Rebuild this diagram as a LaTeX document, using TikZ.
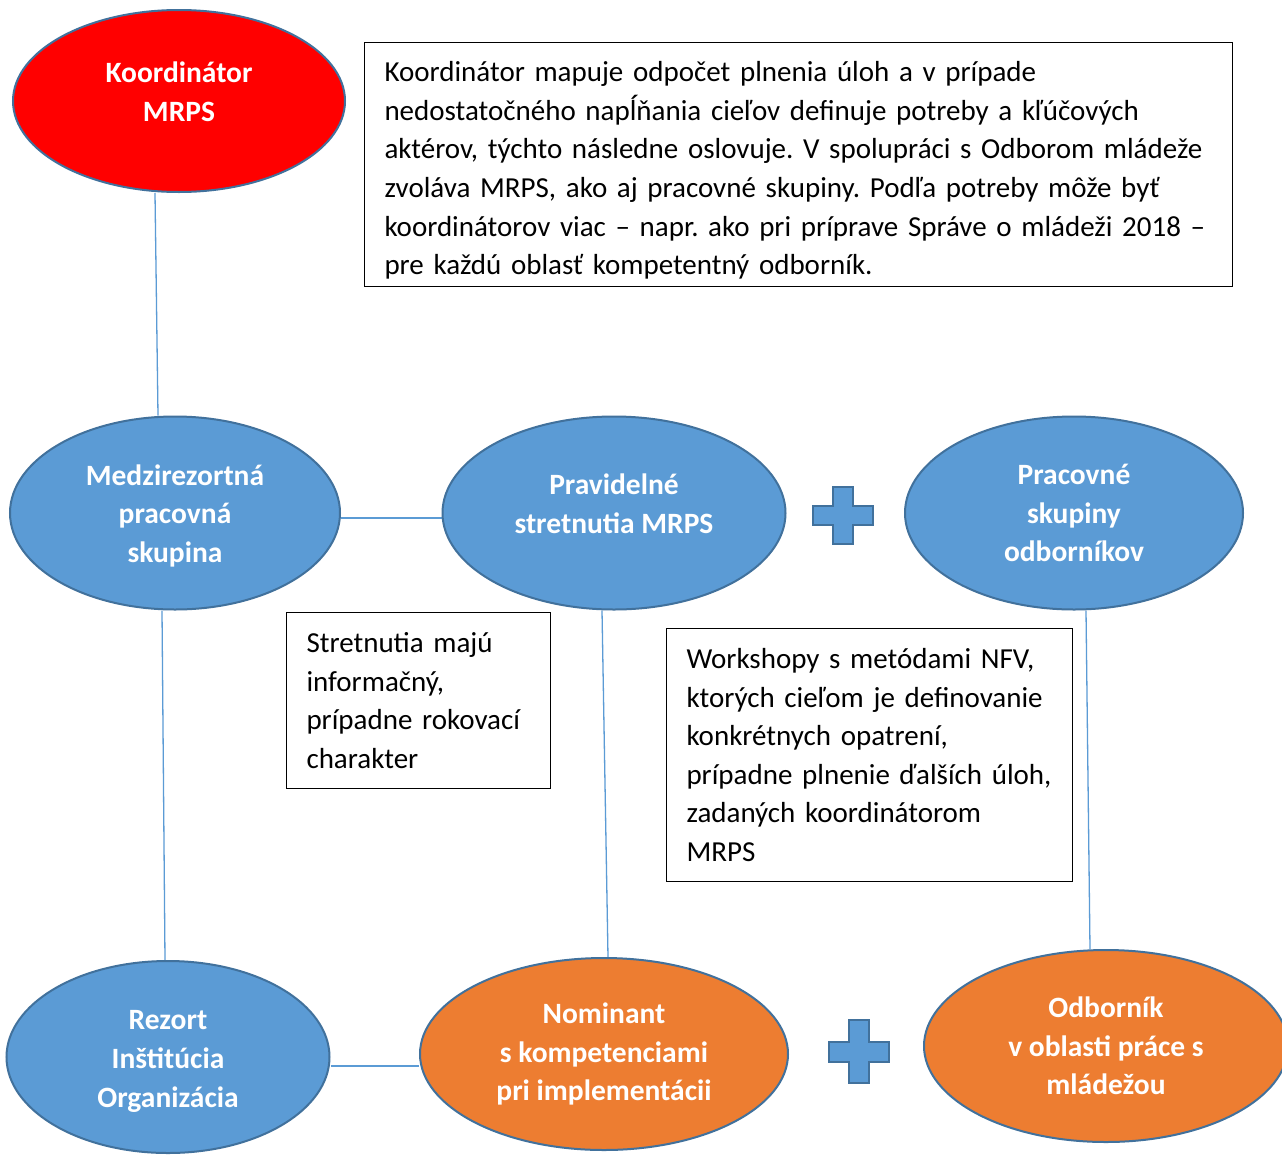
\documentclass[tikz,border=0pt]{standalone}
\usepackage{fontspec}
\setmainfont{Carlito}
\usetikzlibrary{shapes.geometric,backgrounds}
\definecolor{redfill}{HTML}{FF0000}
\definecolor{bluefill}{HTML}{5B9BD5}
\definecolor{orangefill}{HTML}{ED7D31}
\definecolor{edgec}{HTML}{41719C}
\definecolor{linkc}{HTML}{5B9BD5}
\frenchspacing
\begin{document}
\begin{tikzpicture}[x=1pt,y=-1pt,
 ell/.style={ellipse, draw=edgec, line width=2pt, inner sep=0pt, text=white, font=\fontsize{29.5}{38.6}\selectfont\bfseries, align=center},
 bell/.style={ell, fill=bluefill},
 oell/.style={ell, fill=orangefill},
 rell/.style={ell, fill=redfill},
 tbox/.style={draw=black, line width=1pt, inner xsep=20pt, inner ysep=0pt, align=left, font=\fontsize{29}{38.6}\selectfont, anchor=north west},
 link/.style={draw=linkc, line width=1.3pt},
 plus/.style={fill=bluefill, draw=edgec, line width=2pt}]
\clip (0,0) rectangle (1282,1154);

\node[rell, minimum width=332pt, minimum height=182pt] (koord) at (179,101) {Koordinátor\\MRPS\\[-20pt]~};
\node[bell, minimum width=330pt, minimum height=193pt] (medzi) at (175,513) {\rule{0pt}{26pt}Medzirezortná\\pracovná\\skupina};
\node[bell, minimum width=343pt, minimum height=193pt] (prav) at (614,513) {Pravidelné\\stretnutia MRPS\\[-20pt]~};
\node[bell, minimum width=338pt, minimum height=193pt] (prac) at (1074,513) {Pracovné\\skupiny\\odborníkov};
\node[bell, minimum width=323pt, minimum height=192pt] (rez) at (168,1057) {\rule{0pt}{28pt}Rezort\\Inštitúcia\\Organizácia};
\node[oell, minimum width=368pt, minimum height=192pt] (nom) at (604,1054) {Nominant\\s kompetenciami\\pri implementácii};
\node[oell, minimum width=364pt, minimum height=192pt] (odb) at (1106,1046) {Odborník\\v oblasti práce s\\mládežou};

\node[tbox, text width=828pt, minimum height=244pt] (info) at (364,42) {\rule{0pt}{32pt}Koordinátor mapuje odpočet plnenia úloh a v prípade\\ nedostatočného napĺňania cieľov definuje potreby a kľúčových\\ aktérov, týchto následne oslovuje. V spolupráci s Odborom mládeže\\ zvoláva MRPS, ako aj pracovné skupiny. Podľa potreby môže byť\\ koordinátorov viac – napr. ako pri príprave Správe o mládeži 2018 –\\ pre každú oblasť kompetentný odborník.};
\node[tbox, text width=224pt, minimum height=176pt] (stret) at (286,612) {Stretnutia majú\\ informačný,\\ prípadne rokovací\\ charakter};
\node[tbox, text width=366pt, minimum height=253pt] (work) at (666,628) {Workshopy s metódami NFV,\\ ktorých cieľom je definovanie\\ konkrétnych opatrení,\\ prípadne plnenie ďalších úloh,\\ zadaných koordinátorom\\ MRPS};

\draw[plus] (833,487) -- (853,487) -- (853,506) -- (873,506) -- (873,525) -- (853,525) -- (853,544) -- (833,544) -- (833,525) -- (813,525) -- (813,506) -- (833,506) -- cycle;
\draw[plus] (849,1020) -- (869,1020) -- (869,1042) -- (889,1042) -- (889,1062) -- (869,1062) -- (869,1083) -- (849,1083) -- (849,1062) -- (829,1062) -- (829,1042) -- (849,1042) -- cycle;

\begin{scope}[on background layer]
\fill[white] (0,0) rectangle (1282,1154);
\draw[link] ([xshift=-24pt]koord.south) -- ([xshift=-17pt]medzi.north);
\draw[link] ([yshift=-5pt]medzi.east) -- ([yshift=-5pt]prav.west);
\draw[link] ([xshift=-13pt]medzi.south) -- ([xshift=-3pt]rez.north);
\draw[link] ([xshift=-12pt]prav.south) -- ([xshift=4pt]nom.north);
\draw[link] ([xshift=12pt]prac.south) -- ([xshift=-16pt]odb.north);
\draw[link] ([yshift=-9pt]rez.east) -- ([yshift=-12pt]nom.west);
\end{scope}
\end{tikzpicture}
\end{document}
